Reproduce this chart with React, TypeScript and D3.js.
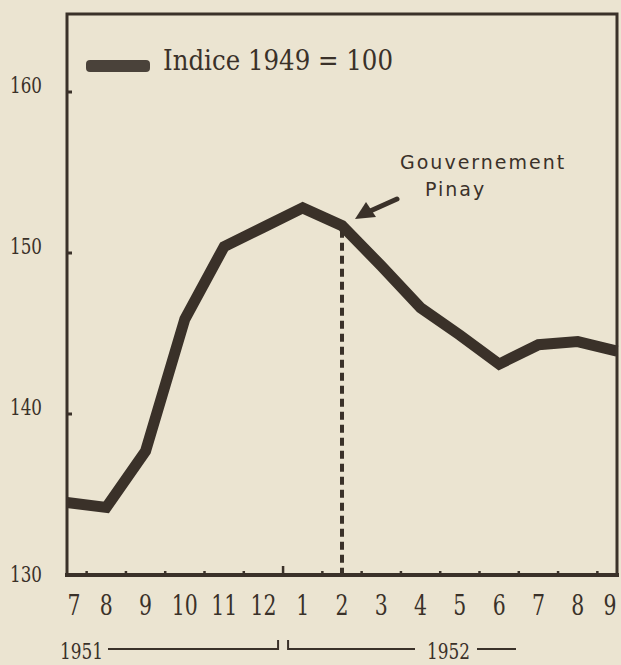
import React from 'react';
import * as d3 from 'd3';

// months from July 1951 to September 1952
const months = ['7', '8', '9', '10', '11', '12', '1', '2', '3', '4', '5', '6', '7', '8', '9'];
const indexValues = [134.5, 134.2, 137.7, 145.9, 150.4, 151.6, 152.8, 151.7, 149.2, 146.6, 144.9, 143.1, 144.3, 144.5, 143.9];
const yTicks = [130, 140, 150, 160];
const legendLabel = 'Indice 1949 = 100';
const noteLines = ['Gouvernement', 'Pinay'];
const noteMonth = 7; // index of "2" (Feb 1952)
const years = ['1951', '1952'];

const W = 621;
const H = 665;
const left = 67;
const right = 617;
const top = 14;
const bottom = 575;

const ink = '#3a3129';
const paper = '#ebe4d1';
const slab = '"DejaVu Serif", "Liberation Serif", serif';

// typewriter-ish text squeezed to a given width
const Type = ({ x, y, size, width, anchor = 'start', children }) => (
    <text x={x} y={y} textAnchor={anchor} fontFamily={slab} fontSize={size} fill={ink}
        textLength={width} lengthAdjust="spacingAndGlyphs">{children}</text>
);

const App = () => {
    const x = d3.scalePoint<number>()
        .domain(d3.range(months.length))
        .range([left, right]);

    const y = d3.scaleLinear()
        .domain([130, 160])
        .range([bottom, 92]);

    const line = d3.line<number>()
        .x((d, i) => x(i) as number)
        .y(d => y(d));

    const step = x.step();
    const mids = d3.range(months.length - 1).map(i => (x(i) as number) + step / 2);

    const nx = x(noteMonth) as number;
    const ny = y(indexValues[noteMonth]);

    // year bracket split between 12 and 1
    const splitX = (x(5) as number) + step / 2;

    return (
        <svg width={W} height={H} style={{ position: 'absolute', left: 0, top: 0, background: paper }}>
            <rect x={0} y={0} width={W} height={H} fill={paper} />

            {/* frame */}
            <path d={`M${left},${bottom} L${left},${top} L${right},${top} L${right},${bottom}`}
                fill="none" stroke={ink} strokeWidth={3} />
            <line x1={left - 2} x2={right + 2} y1={bottom} y2={bottom} stroke={ink} strokeWidth={4} />

            {/* y ticks and labels */}
            {yTicks.map(t => (
                <g key={t}>
                    {t !== 130 && (
                        <line x1={left} x2={left + 5} y1={y(t)} y2={y(t)} stroke={ink} strokeWidth={3} />
                    )}
                    <Type x={10} y={y(t) + (t === 130 ? 7 : 1)} size={22} width={32}>{String(t)}</Type>
                </g>
            ))}

            {/* x ticks */}
            {mids.map((m, i) => (
                <line key={i} x1={m} x2={m} y1={bottom} y2={bottom - (i === 5 ? 9 : 4)}
                    stroke={ink} strokeWidth={2.5} />
            ))}

            {/* x labels */}
            {months.map((m, i) => (
                <Type key={i} x={(x(i) as number) + (i === 0 ? 7 : i === months.length - 1 ? -7 : 0)} y={615}
                    size={28} anchor="middle" width={m.length > 1 ? 26 : 13}>{m}</Type>
            ))}

            {/* year brackets */}
            <Type x={60} y={659} size={22} width={43}>{years[0]}</Type>
            <path d={`M108,649 L${splitX - 5},649 L${splitX - 5},640`} fill="none" stroke={ink} strokeWidth={2} />
            <path d={`M${splitX + 5},640 L${splitX + 5},649 L415,649`} fill="none" stroke={ink} strokeWidth={2} />
            <Type x={427} y={659} size={22} width={43}>{years[1]}</Type>
            <line x1={477} x2={516} y1={649} y2={649} stroke={ink} strokeWidth={2} />

            {/* dashed marker */}
            <line x1={nx} x2={nx} y1={ny + 4} y2={bottom} stroke={ink} strokeWidth={4}
                strokeDasharray="8 5" />

            {/* data line */}
            <path d={line(indexValues) || ''} fill="none" stroke={ink} strokeWidth={11}
                strokeLinejoin="miter" />

            {/* legend */}
            <rect x={86} y={60} width={64} height={12} rx={4} fill="#4a423a" />
            <Type x={163} y={70} size={27} width={230}>{legendLabel}</Type>

            {/* note */}
            <text x={400} y={169} fontFamily='"DejaVu Sans", sans-serif' fontSize={19} fill={ink}
                letterSpacing={2}>{noteLines[0]}</text>
            <text x={425} y={196} fontFamily='"DejaVu Sans", sans-serif' fontSize={19} fill={ink}
                letterSpacing={2}>{noteLines[1]}</text>
            <line x1={397} x2={368} y1={199} y2={212} stroke={ink} strokeWidth={5} strokeLinecap="round" />
            <path d="M355,219 L366,202 L376,217 Z" fill={ink} />
        </svg>
    );
};

export default App;
